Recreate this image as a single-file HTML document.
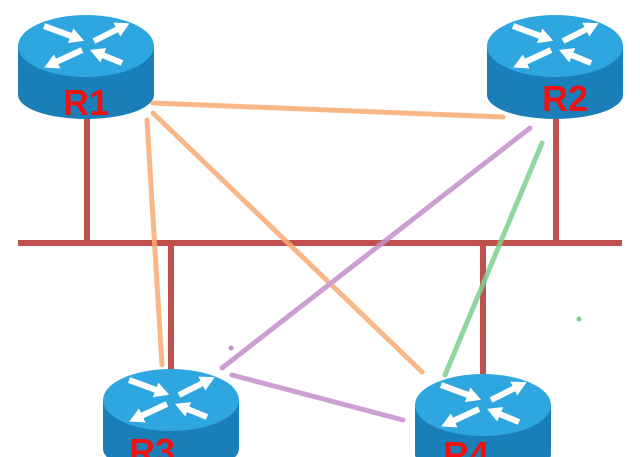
<!DOCTYPE html>
<html><head><style>html,body{margin:0;padding:0;background:#fff;width:640px;height:457px;overflow:hidden}</style></head>
<body>
<svg width="640" height="457" viewBox="0 0 640 457" xmlns="http://www.w3.org/2000/svg">
<defs>
<marker id="ah" markerWidth="2.4" markerHeight="2.6" refX="0.6" refY="1.3" orient="auto" markerUnits="strokeWidth">
  <polygon points="0,0 2.4,1.3 0,2.6" fill="#fff"/>
</marker>
<g id="rt">
  <path d="M0,33 L0,82 A68,24 0 0 0 136,82 L136,33 Z" fill="#1a7fb8"/>
  <ellipse cx="68" cy="33" rx="68" ry="31" fill="#2ea6e0"/>
  <g stroke="#fff" stroke-width="6" fill="none" marker-end="url(#ah)">
    <path d="M26,13 L56,24"/>
    <path d="M76,28 L102,15"/>
    <path d="M64,37 L36,50"/>
    <path d="M104,50 L82,41"/>
  </g>
</g>
</defs>
<line x1="18" y1="243" x2="622" y2="243" stroke="#c0504d" stroke-width="6"/>
<g stroke="#c0504d" stroke-width="6">
<line x1="87" y1="110" x2="87" y2="243"/>
<line x1="556" y1="110" x2="556" y2="243"/>
<line x1="171" y1="243" x2="171" y2="370"/>
<line x1="483" y1="243" x2="483" y2="378"/>
</g>
<use href="#rt" x="18" y="13"/>
<use href="#rt" x="487" y="13"/>
<use href="#rt" x="103" y="367"/>
<use href="#rt" x="415" y="372"/>
<g stroke-width="5" stroke-linecap="round" opacity="0.85" fill="none">
<line x1="153" y1="103" x2="503" y2="117" stroke="#f8ab74"/>
<line x1="147" y1="120" x2="162" y2="365" stroke="#f8ab74"/>
<line x1="153" y1="113" x2="422" y2="372" stroke="#f8ab74"/>
<line x1="530" y1="128" x2="222" y2="368" stroke="#c48fcb"/>
<line x1="232" y1="375" x2="403" y2="420" stroke="#c48fcb"/>
<line x1="542" y1="143" x2="445" y2="375" stroke="#7fcf8f"/>
</g>
<circle cx="231" cy="348" r="2.5" fill="#c48fcb"/>
<circle cx="579" cy="319" r="2.5" fill="#7fcf8f"/>
<g font-family="Liberation Sans, sans-serif" font-weight="bold" font-size="36" fill="#ee1111" text-anchor="middle">
<text x="86" y="115">R1</text>
<text x="565" y="111">R2</text>
<text x="152" y="464">R3</text>
<text x="466" y="467">R4</text>
</g>
</svg>
</body></html>
